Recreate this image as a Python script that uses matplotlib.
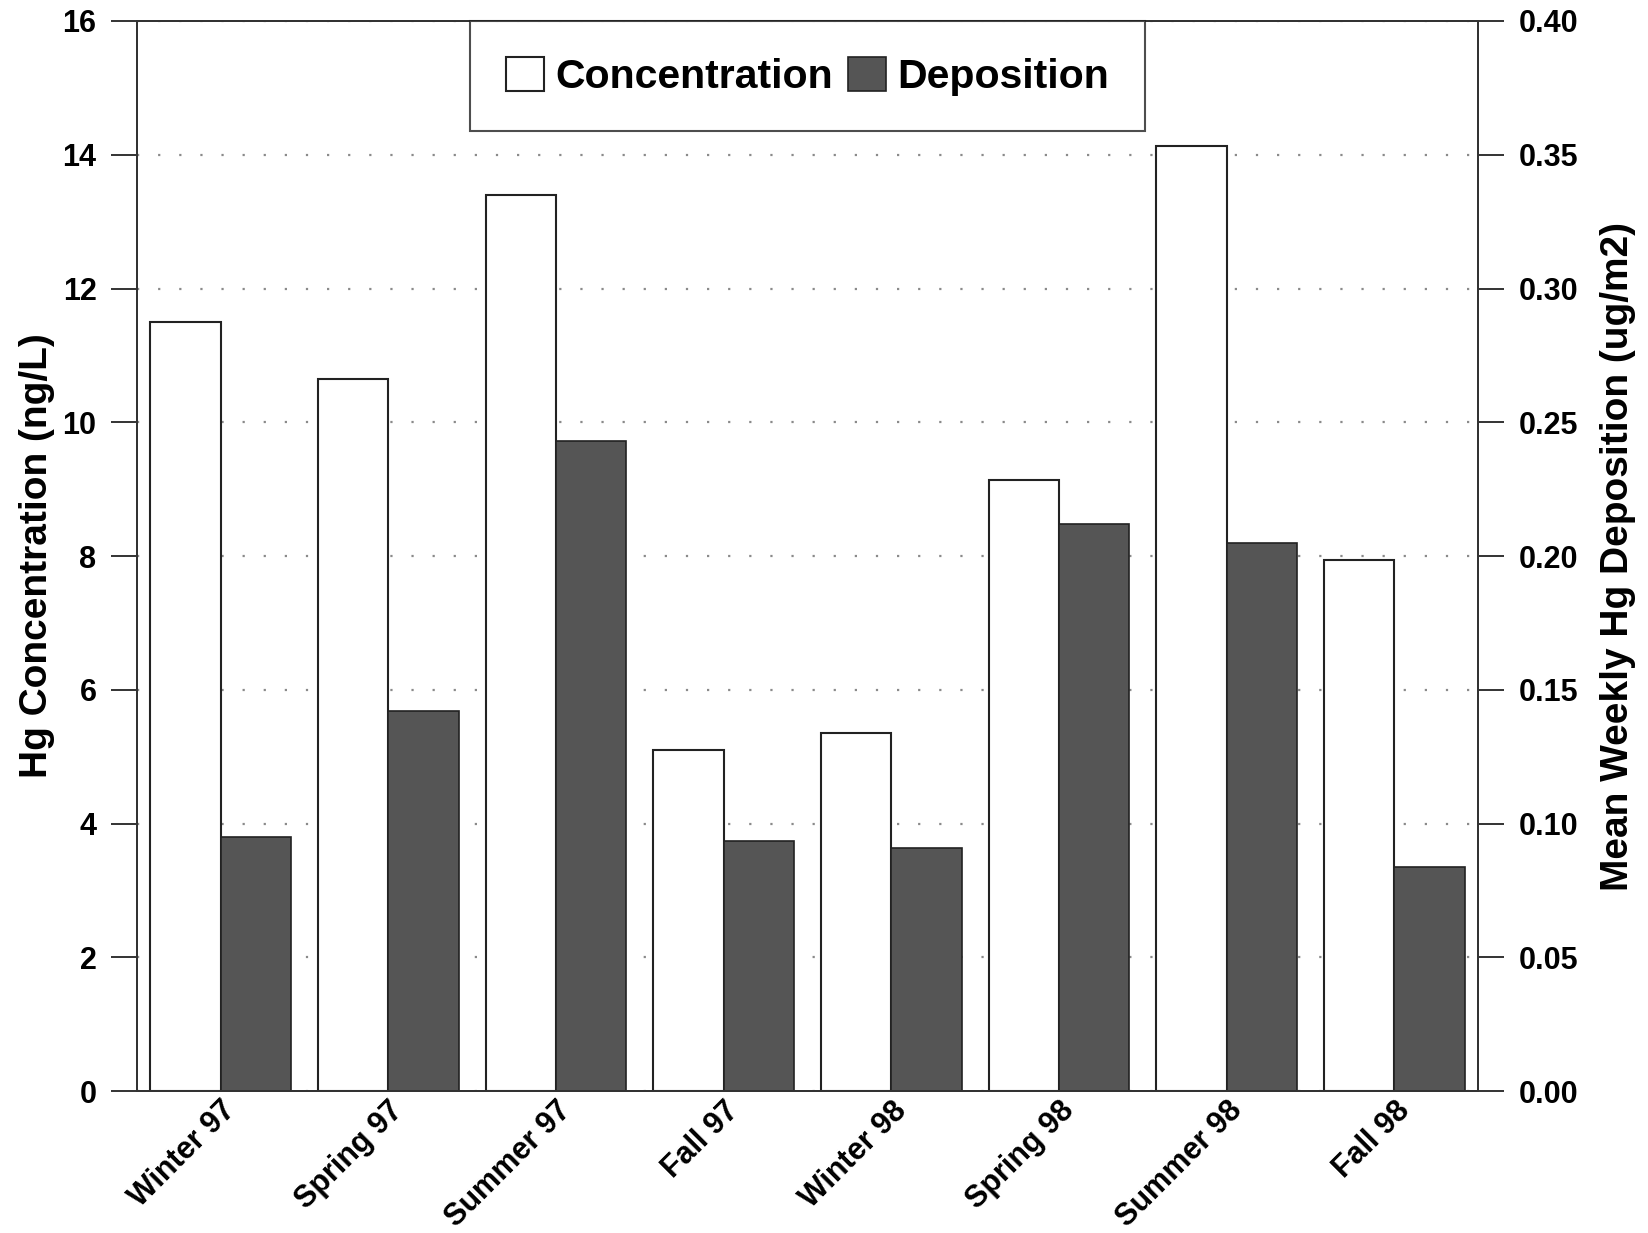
import matplotlib
matplotlib.use("Agg")
import matplotlib.pyplot as plt
import numpy as np

seasons = ["Winter 97", "Spring 97", "Summer 97", "Fall 97",
           "Winter 98", "Spring 98", "Summer 98", "Fall 98"]
concentration = [11.5, 10.65, 13.4, 5.1, 5.35, 9.13, 14.13, 7.94]        # ng/L
deposition = [0.095, 0.142, 0.243, 0.0935, 0.0908, 0.212, 0.205, 0.0837]  # ug/m2
left_ticks = [0, 2, 4, 6, 8, 10, 12, 14, 16]
right_ticks = [0.00, 0.05, 0.10, 0.15, 0.20, 0.25, 0.30, 0.35, 0.40]

plt.rcParams['font.family'] = ['Liberation Sans', 'DejaVu Sans']
plt.rcParams['font.weight'] = 'bold'

fig = plt.figure(figsize=(16.48, 12.33), dpi=100)
ax = fig.add_axes([0.083, 0.115, 0.814, 0.868])
ax2 = ax.twinx()

x = np.arange(len(seasons))
w = 0.42
dark = '#555555'

b1 = ax.bar(x - w / 2, concentration, width=w, color='white', edgecolor='#222222',
            linewidth=1.5, zorder=2, label='Concentration')
b2 = ax2.bar(x + w / 2, deposition, width=w, color=dark, edgecolor='#222222',
             linewidth=1.2, zorder=2, label='Deposition')

ax.set_xlim(-0.5, len(seasons) - 0.5)
ax.set_ylim(0, 16)
ax2.set_ylim(0, 0.40)
ax.set_yticks(left_ticks)
ax.set_yticklabels([f"{v:d}" for v in left_ticks])
ax2.set_yticks(right_ticks)
ax2.set_yticklabels([f"{v:.2f}" for v in right_ticks])

ax.set_axisbelow(True)
ax.yaxis.grid(True, color='#8a8a8a', linewidth=1.6, linestyle=(0, (1, 8.5)))

ax.set_xticks(x)
ax.set_xticklabels(seasons, rotation=45, ha='right', rotation_mode='anchor',
                   fontsize=22, fontweight='bold')
ax.tick_params(axis='x', length=0, pad=3)
ax.tick_params(axis='y', direction='out', length=19, width=1.4, labelsize=22, pad=10,
               color='#333333')
ax2.tick_params(axis='y', direction='out', length=19, width=1.4, labelsize=22, pad=10,
                color='#333333')

for a in (ax, ax2):
    for s in a.spines.values():
        s.set_linewidth(1.4)
        s.set_color('#333333')

ax.set_ylabel("Hg Concentration (ng/L)", fontsize=28, fontweight='bold')
ax2.set_ylabel("Mean Weekly Hg Deposition (ug/m2)", fontsize=28, fontweight='bold')
ax.yaxis.set_label_coords(-0.061, 0.5)
ax2.yaxis.set_label_coords(1.091, 0.5)

leg = ax2.legend([b1, b2], ['Concentration', 'Deposition'], loc='upper center',
                 ncol=2, frameon=True, fancybox=False,
                 borderaxespad=0, borderpad=0.87, handlelength=0.92, handleheight=0.9,
                 handletextpad=0.28, columnspacing=0.38,
                 prop={'weight': 'bold', 'size': 29.5})
leg.get_frame().set_edgecolor('#222222')
leg.get_frame().set_linewidth(1.5)
leg.set_zorder(10)

fig.savefig("out.png", dpi=100)
